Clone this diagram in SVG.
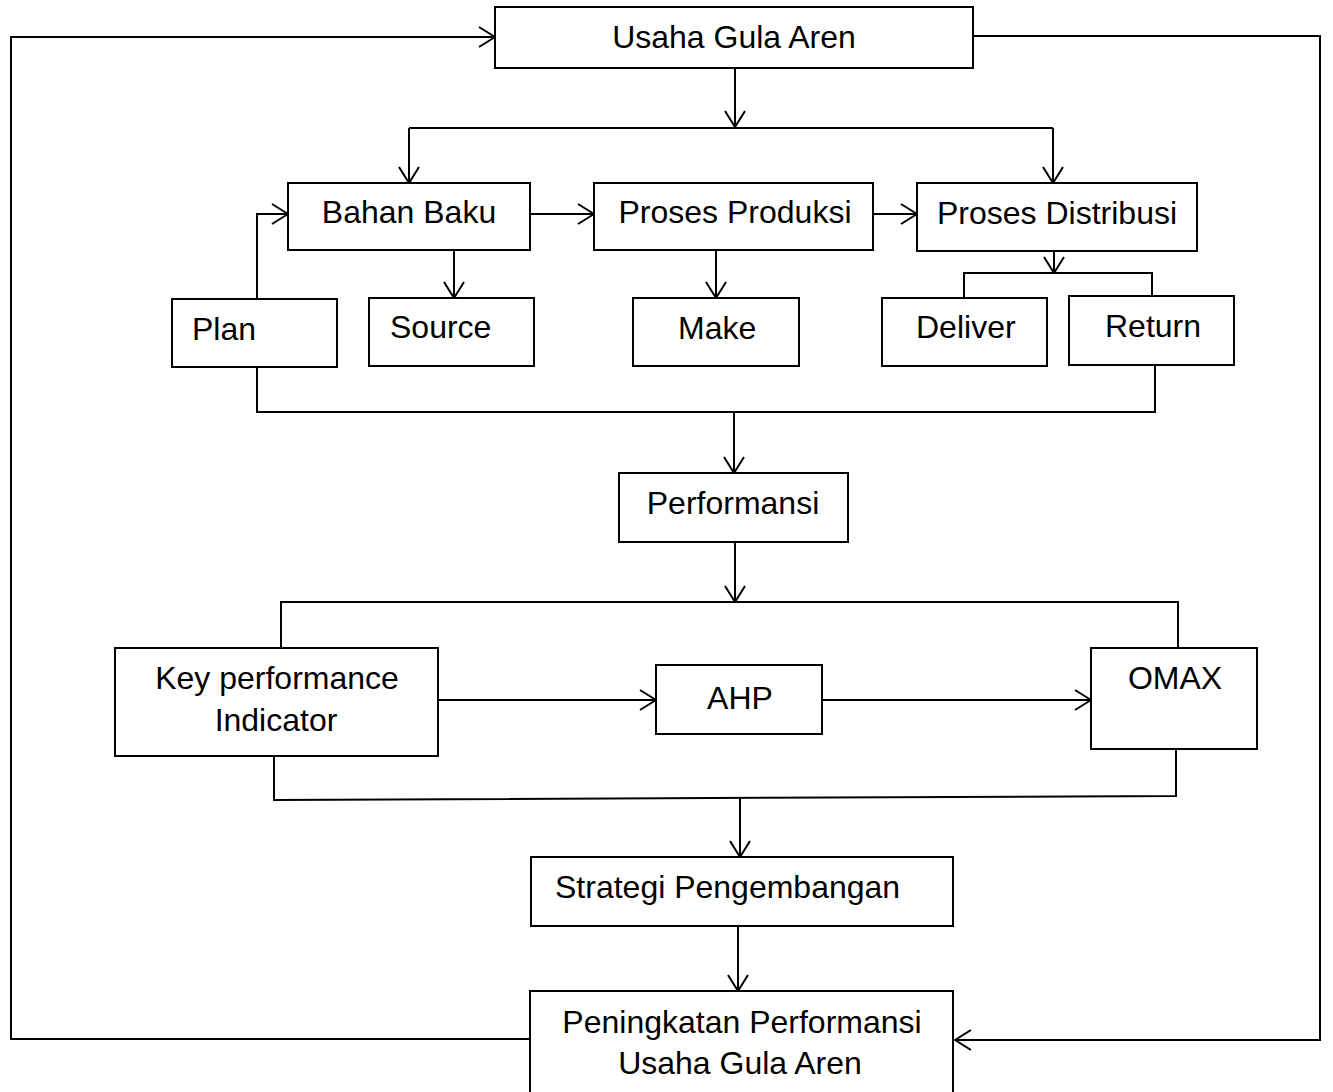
<svg xmlns="http://www.w3.org/2000/svg" width="1333" height="1092" viewBox="0 0 1333 1092">
<style>
.box{fill:#fff;stroke:#000;stroke-width:2}
.c{fill:none;stroke:#000;stroke-width:2}
.a{fill:none;stroke:#000;stroke-width:2;marker-end:url(#arr)}
text{font-family:"Liberation Sans",Arial,sans-serif;font-size:32px;fill:#000}
.m{text-anchor:middle}
</style>
<defs>
<marker id="arr" markerUnits="userSpaceOnUse" viewBox="0 0 18 22" refX="17" refY="11" markerWidth="18" markerHeight="22" orient="auto">
<path d="M1,1 L17,11 L1,21" fill="none" stroke="#000" stroke-width="2"/>
</marker>
</defs>
<rect width="1333" height="1092" fill="#fff"/>
<g id="connectors">
<path class="a" d="M530,1039 H11 V37 H495"/>
<path class="a" d="M973,36 H1320 V1040 H955"/>
<path class="a" d="M735,68 V127"/>
<path class="c" d="M409,128 H1053"/>
<path class="a" d="M409,128 V183"/>
<path class="a" d="M1053,128 V183"/>
<path class="a" d="M257,299 V214 H288"/>
<path class="a" d="M530,214 H594"/>
<path class="a" d="M873,214 H917"/>
<path class="a" d="M454,250 V298"/>
<path class="a" d="M716,250 V298"/>
<path class="a" d="M1054,251 V273"/>
<path class="c" d="M964,298 V273 H1152 V296"/>
<path class="c" d="M257,367 V412 H1155 V365"/>
<path class="a" d="M734,412 V473"/>
<path class="a" d="M735,542 V602"/>
<path class="c" d="M281,649 V602 H1178 V649"/>
<path class="a" d="M438,700 H656"/>
<path class="a" d="M822,700 H1091"/>
<path class="c" d="M274,756 V800 L1176,796 V749"/>
<path class="a" d="M740,798 V857"/>
<path class="a" d="M738,926 V991"/>
</g>
<g id="usaha"><rect class="box" x="495" y="7" width="478" height="61"/><text class="m" x="734" y="48">Usaha Gula Aren</text></g>
<g id="bahan"><rect class="box" x="288" y="183" width="242" height="67"/><text class="m" x="409" y="223">Bahan Baku</text></g>
<g id="produksi"><rect class="box" x="594" y="183" width="279" height="67"/><text class="m" x="735" y="223">Proses Produksi</text></g>
<g id="distribusi"><rect class="box" x="917" y="183" width="280" height="68"/><text class="m" x="1057" y="224">Proses Distribusi</text></g>
<g id="plan"><rect class="box" x="172" y="299" width="165" height="68"/><text x="192" y="340">Plan</text></g>
<g id="source"><rect class="box" x="369" y="298" width="165" height="68"/><text x="390" y="338">Source</text></g>
<g id="make"><rect class="box" x="633" y="298" width="166" height="68"/><text x="678" y="339">Make</text></g>
<g id="deliver"><rect class="box" x="882" y="298" width="165" height="68"/><text x="916" y="338">Deliver</text></g>
<g id="return"><rect class="box" x="1069" y="296" width="165" height="69"/><text x="1105" y="337">Return</text></g>
<g id="performansi"><rect class="box" x="619" y="473" width="229" height="69"/><text class="m" x="733" y="514">Performansi</text></g>
<g id="kpi"><rect class="box" x="115" y="648" width="323" height="108"/><text class="m" x="277" y="689">Key performance</text><text class="m" x="276" y="731">Indicator</text></g>
<g id="ahp"><rect class="box" x="656" y="665" width="166" height="69"/><text class="m" x="740" y="709">AHP</text></g>
<g id="omax"><rect class="box" x="1091" y="648" width="166" height="101"/><text class="m" x="1175" y="689">OMAX</text></g>
<g id="strategi"><rect class="box" x="531" y="857" width="422" height="69"/><text x="555" y="898">Strategi Pengembangan</text></g>
<g id="peningkatan"><rect class="box" x="530" y="991" width="423" height="115"/><text class="m" x="742" y="1033">Peningkatan Performansi</text><text class="m" x="740" y="1074">Usaha Gula Aren</text></g>
</svg>
